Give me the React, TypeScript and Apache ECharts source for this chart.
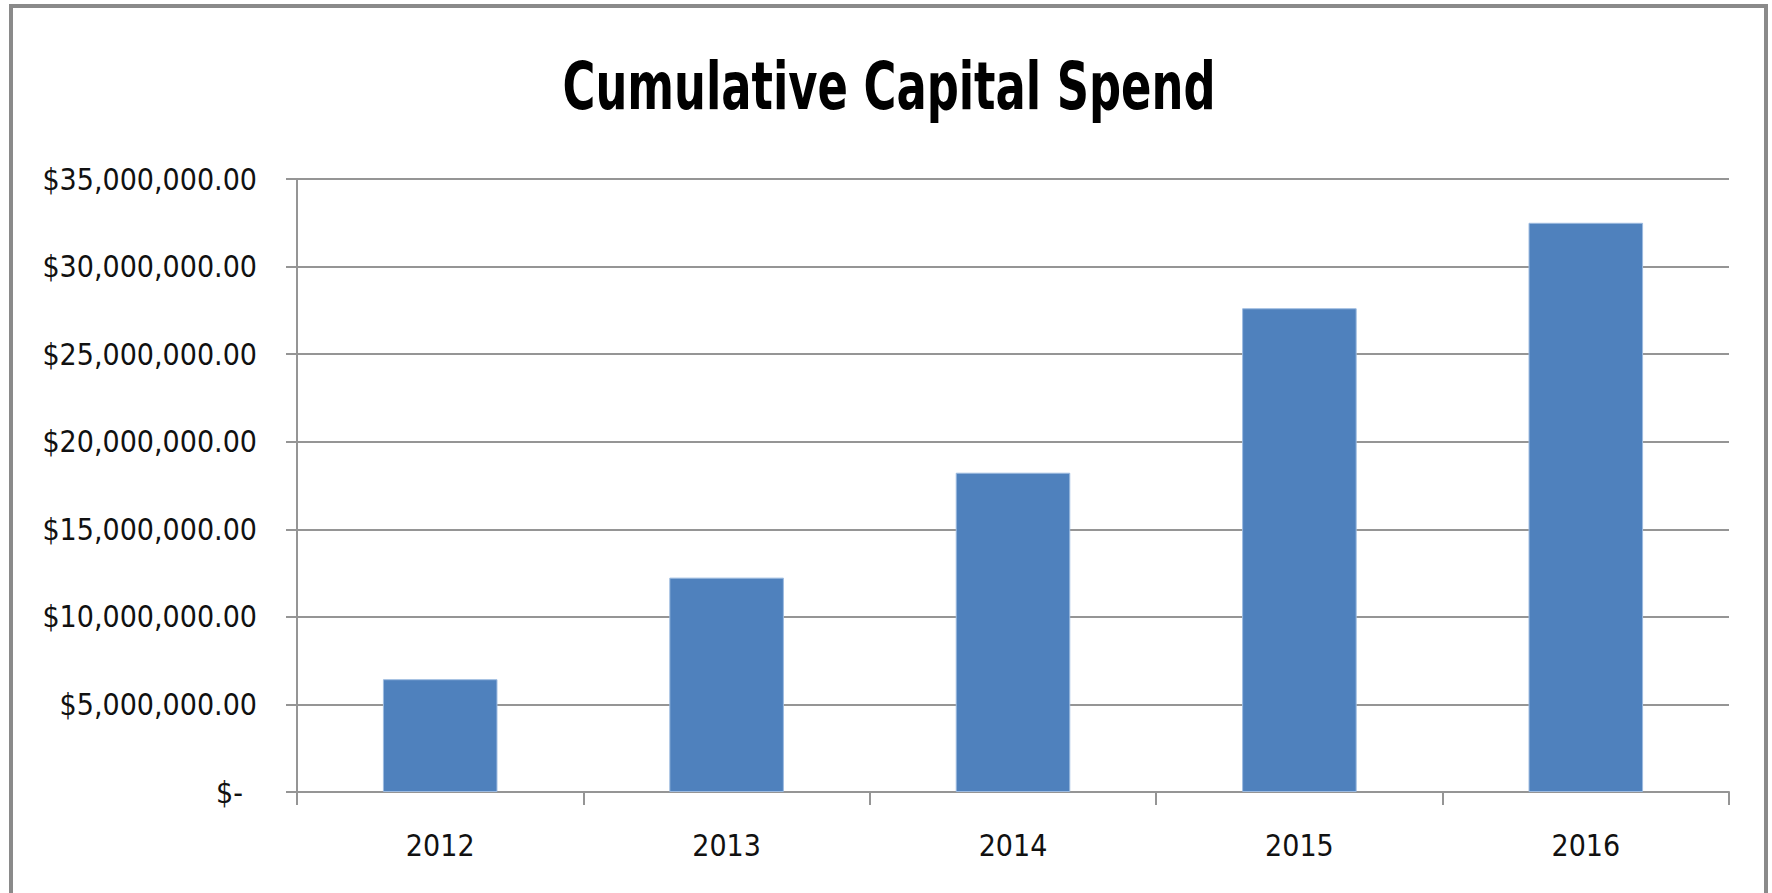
import React, { useEffect, useRef } from "react";
import * as echarts from "echarts";

const titleText = "Cumulative Capital Spend";
const years = ["2012", "2013", "2014", "2015", "2016"];
const spend = [6440000, 12240000, 18230000, 27620000, 32500000];
const yMin = 0;
const yMax = 35000000;
const yStep = 5000000;

const FONT = "'Liberation Sans Narrow', 'DejaVu Sans Condensed', 'Roboto Condensed', sans-serif";
const GRAY = "#959595";

function fmtMoney(v: number): string {
  if (v === 0) return "{z|$-}";
  return "$" + v.toLocaleString("en-US", { minimumFractionDigits: 2, maximumFractionDigits: 2 });
}

export default function App() {
  const ref = useRef<HTMLDivElement>(null);
  useEffect(() => {
    if (!ref.current) return;
    const chart = echarts.init(ref.current, null, { renderer: "svg" });
    chart.setOption({
      animation: false,
      backgroundColor: "#ffffff",
      graphic: [
        {
          type: "rect",
          shape: { x: 11, y: 6, width: 1755, height: 920 },
          style: { fill: "none", stroke: "#8a8a8a", lineWidth: 4 },
          silent: true,
        },
        {
          type: "text",
          x: 889,
          y: 86,
          scaleX: 0.755,
          scaleY: 1,
          style: {
            text: titleText,
            x: 0,
            y: 0,
            align: "center",
            verticalAlign: "middle",
            fontFamily: FONT,
            fontSize: 66,
            fontWeight: "bold",
            fill: "#000000",
          },
          silent: true,
        },
      ],
      grid: { left: 297, right: 43, top: 179, bottom: 101, containLabel: false },
      xAxis: {
        type: "category",
        data: years,
        boundaryGap: true,
        axisLine: { show: true, lineStyle: { color: GRAY, width: 2 } },
        axisTick: { show: true, length: 13, lineStyle: { color: GRAY, width: 2 } },
        axisLabel: { margin: 38, fontFamily: FONT, fontSize: 30, color: "#111111" },
        splitLine: { show: false },
      },
      yAxis: {
        type: "value",
        min: yMin,
        max: yMax,
        interval: yStep,
        axisLine: { show: true, lineStyle: { color: GRAY, width: 2 } },
        axisTick: { show: true, length: 11, lineStyle: { color: GRAY, width: 2 } },
        axisLabel: {
          margin: 40,
          fontFamily: FONT,
          fontSize: 30,
          color: "#111111",
          formatter: fmtMoney,
          rich: {
            z: { fontFamily: FONT, fontSize: 30, color: "#111111", padding: [0, 14, 0, 0] },
          },
        },
        splitLine: { show: true, lineStyle: { color: GRAY, width: 2 } },
      },
      series: [
        {
          type: "bar",
          data: spend,
          barWidth: "40%",
          itemStyle: { color: "#4f81bd", borderColor: "#9dbbe0", borderWidth: 1 },
        },
      ],
    });
    return () => chart.dispose();
  }, []);
  return (
    <div
      ref={ref}
      style={{ position: "fixed", left: 0, top: 0, width: 1772, height: 893 }}
    />
  );
}
